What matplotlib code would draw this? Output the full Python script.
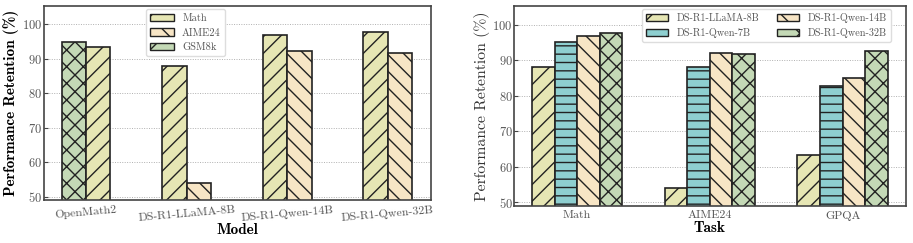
import numpy as np
import matplotlib
matplotlib.use("Agg")
import matplotlib.pyplot as plt

plt.rcParams['font.family'] = 'serif'
plt.rcParams['font.serif'] = ['cmr10', 'DejaVu Serif']
plt.rcParams['axes.formatter.use_mathtext'] = True
plt.rcParams['hatch.linewidth'] = 1.0

# left panel: retention per model
models = ['OpenMath2', 'DS-R1-LLaMA-8B', 'DS-R1-Qwen-14B', 'DS-R1-Qwen-32B']
math_ret = [93.5, 88.0, 97.0, 97.7]
aime_ret = [None, 54.0, 92.2, 91.8]
gsm_ret = [95.0, None, None, None]

# right panel: retention per task
tasks = ['Math', 'AIME24', 'GPQA']
series_names = ['DS-R1-LLaMA-8B', 'DS-R1-Qwen-7B', 'DS-R1-Qwen-14B', 'DS-R1-Qwen-32B']
llama8b = [88.0, 54.0, 63.2]
qwen7b = [95.3, 88.0, 82.9]
qwen14b = [97.0, 92.2, 85.1]
qwen32b = [97.7, 91.9, 92.5]

c_math = '#e6e6b4'
c_aime = '#f7e5c5'
c_gsm = '#c4d9b6'
c_teal = '#8ecfd0'
edge = '#222222'

fig = plt.figure(figsize=(9.13, 2.43), dpi=100)
ax1 = fig.add_axes([0.048, 0.177, 0.424, 0.798])
ax2 = fig.add_axes([0.563, 0.153, 0.429, 0.822])

def style(ax):
    ax.set_ylim(49, 105.3)
    ax.set_yticks([50, 60, 70, 80, 90, 100])
    ax.yaxis.grid(True, linestyle=(0, (1, 1.5)), color='#b0b0b0', linewidth=0.7)
    ax.set_axisbelow(True)
    for s in ax.spines.values():
        s.set_color('#444444')
        s.set_linewidth(1.2)
    ax.tick_params(axis='y', direction='in', length=3, labelsize=9, colors='#444444', labelcolor='#555555', pad=1)
    ax.tick_params(axis='x', length=0, labelsize=8.6, labelcolor='#555555')

# left
w = 0.243
x = np.arange(len(models))
for i in range(len(models)):
    if gsm_ret[i] is not None:
        ax1.bar(x[i] - w/2, gsm_ret[i], w, color=c_gsm, edgecolor=edge, hatch='xx', linewidth=1.2)
        ax1.bar(x[i] + w/2, math_ret[i], w, color=c_math, edgecolor=edge, hatch='//', linewidth=1.2)
    else:
        ax1.bar(x[i] - w/2, math_ret[i], w, color=c_math, edgecolor=edge, hatch='//', linewidth=1.2)
        ax1.bar(x[i] + w/2, aime_ret[i], w, color=c_aime, edgecolor=edge, hatch='\\\\', linewidth=1.2)
style(ax1)
ax1.set_xlim(-0.42, 3.43)
ax1.set_xticks(x)
ax1.set_xticklabels(models, rotation=5)
ax1.set_xlabel('Model', fontname='cmb10', fontsize=11, labelpad=0)
ax1.set_ylabel('Performance Retention (%)', fontname='cmb10', fontsize=11, labelpad=2)
h1 = [plt.Rectangle((0, 0), 1, 1, facecolor=c, edgecolor=edge, hatch=h, linewidth=1.0)
      for c, h in [(c_math, '/'), (c_aime, '\\'), (c_gsm, 'x')]]
ax1.legend(h1, ['Math', 'AIME24', 'GSM8k'], loc='upper left', bbox_to_anchor=(0.255, 1.0),
           borderaxespad=0.3, fontsize=7.5, handlelength=2.3, labelcolor='#555555',
           framealpha=1, edgecolor='#dddddd')

# right
w2 = 0.17
x2 = np.arange(len(tasks))
vals = [llama8b, qwen7b, qwen14b, qwen32b]
cols = [c_math, c_teal, c_aime, c_gsm]
hatches = ['//', '--', '\\\\', 'xx']
for k in range(4):
    ax2.bar(x2 + (k - 1.5) * w2, vals[k], w2, color=cols[k], edgecolor=edge, hatch=hatches[k],
            linewidth=1.2, label=series_names[k])
style(ax2)
ax2.set_xlim(-0.475, 2.475)
ax2.set_xticks(x2)
ax2.set_xticklabels(tasks)
ax2.set_xlabel('Task', fontname='cmb10', fontsize=11, labelpad=0)
ax2.set_ylabel('Performance Retention (%)', fontsize=11.3, labelpad=2, color='#333333')
h2 = [plt.Rectangle((0, 0), 1, 1, facecolor=c, edgecolor=edge, hatch=h[0], linewidth=1.0)
      for c, h in zip(cols, hatches)]
ax2.legend(h2, series_names, loc='upper right', bbox_to_anchor=(0.97, 1.0), borderaxespad=0.3,
           ncol=2, fontsize=7.3, handlelength=2.2, columnspacing=1.8, labelcolor='#555555',
           framealpha=1, edgecolor='#dddddd')

fig.savefig('out.png', dpi=100)
